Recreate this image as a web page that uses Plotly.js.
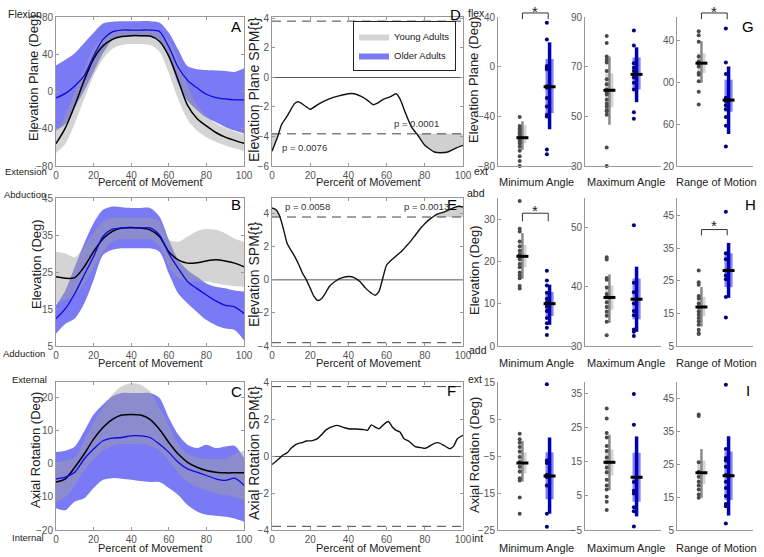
<!DOCTYPE html>
<html>
<head>
<meta charset="utf-8">
<script src="https://cdn.plot.ly/plotly-3.0.1.min.js"></script>
<style>html,body{margin:0;padding:0;background:#fff;} #chart{width:764px;height:557px;}</style>
</head>
<body>
<div id="chart"></div>
<script>
// ---- curve panels (A, B, C): mean +- band, young vs older ----
const pct = [0, 5, 10, 15, 20, 25, 30, 35, 40, 45, 50, 55, 60, 65, 70, 75, 80, 85, 90, 95, 100];

const planeYoungMean = [-56, -39, -15, 12, 35, 49, 56, 59, 60, 60, 59.5, 54, 38, 12, -15, -29, -37, -44, -49, -52.5, -55.7];
const planeYoungUp = [-42, -25, 0, 25, 46, 58, 64, 67, 68, 68, 67.5, 64, 55, 33, 6, -14, -26, -34, -39, -43, -46];
const planeYoungLo = [-66, -56, -34, -8, 17, 35, 46, 50, 51, 51, 50, 43, 20, -8, -30, -42, -49, -54, -58, -61, -64];
const planeOlderMean = [-7, -2, 6, 17, 38, 56, 64, 66, 66, 66, 66, 64.5, 48, 26, 12, 4, -3, -6.5, -8, -9, -9];
const planeOlderUp = [28, 34, 41, 52, 63, 73, 75, 75.5, 75.5, 75.5, 75.5, 74, 63, 45, 27, 24, 23, 22.5, 22, 21, 25];
const planeOlderLo = [-42, -35, -17, 1, 21, 41, 55, 59, 59, 59, 59, 55, 37, 8, -10, -20, -28, -33, -38, -42, -45];

const elevYoungMean = [23.7, 23.3, 23.5, 26.4, 30.5, 34, 36, 36.9, 37, 36.9, 36.4, 34.6, 30.5, 28.3, 27.4, 27.5, 28, 28.3, 28, 27.4, 26.4];
const elevYoungUp = [30.5, 30, 29, 31.9, 35.5, 38.7, 39.6, 39.6, 39.6, 39.6, 39.6, 38.7, 33.7, 33.2, 34.6, 36, 36.6, 36.4, 35.5, 34, 33.2];
const elevYoungLo = [16.5, 17.4, 18.8, 21.9, 26, 30.5, 33.2, 33.9, 33.9, 33.9, 33.9, 31.9, 26.4, 23.3, 22.4, 22.4, 22.4, 21.9, 21.5, 21.2, 21];
const elevOlderMean = [12.4, 15.1, 19.2, 24.2, 29.2, 34.6, 36.6, 36.9, 36.9, 36.9, 36.9, 35, 30, 26, 22.4, 20.5, 18.8, 17.2, 16, 15.6, 13.8];
const elevOlderUp = [16, 20, 26.4, 32.8, 38.2, 41.8, 42.7, 42.5, 42.3, 42.3, 42.3, 40, 33.7, 28.3, 25.5, 23.7, 21.9, 21, 20.6, 20, 19.7];
const elevOlderLo = [8.3, 11, 12.4, 16.5, 22.8, 29.6, 31, 31.4, 31.4, 31.4, 31.4, 30.5, 24.6, 19.2, 16.5, 14.2, 12, 10.6, 9.7, 9.3, 6.5];

const axialYoungMean = [-5.5, -4.5, -1, 3, 7.5, 11, 13.5, 14.8, 15, 14.8, 13.5, 10.5, 6.5, 3, 0.5, -1, -2, -2.5, -2.7, -2.7, -2.7];
const axialYoungUp = [0.5, 1, 2, 7, 12.5, 17, 21, 23.5, 24.5, 24, 22, 17, 11.5, 6, 3, 2, 1.5, 1.5, 1.5, 3, 4];
const axialYoungLo = [-11.5, -10, -6.5, -2, 1.5, 4, 5.5, 6, 6, 6, 5.5, 4, 1, -2.5, -5.5, -7, -8, -9, -9.5, -10, -11];
const axialOlderMean = [-4.5, -4, -2.5, 1.5, 4.5, 7, 7.8, 8, 8.5, 8.5, 8, 6, 3.5, 0.5, -1.5, -2.5, -3.5, -4.5, -5, -4.3, -6.5];
const axialOlderUp = [3.6, 4, 5.3, 9.9, 15, 18, 20.5, 21.5, 21.5, 21.5, 21.5, 20, 14, 8.9, 5.8, 4.8, 5.8, 4.8, 5.3, 5.5, 1.8];
const axialOlderLo = [-13.4, -14, -11.4, -10.4, -7.3, -4.8, -4.3, -4.5, -4.8, -5.2, -5.5, -5.5, -7.3, -9.4, -12.4, -14.4, -15.4, -15.7, -16, -16.5, -17.5];

// ---- SPM{t} panels (D, E, F) ----
const spmPlaneX = [0, 3, 5, 8, 12, 14, 17, 20, 25, 30, 35, 40, 43, 47, 50, 53, 55, 58, 62, 65, 67, 70, 73, 76, 80, 85, 88, 92, 96, 100];
const spmPlaneT = [-5, -4, -3.2, -2.6, -1.75, -1.65, -1.9, -2.15, -1.75, -1.45, -1.25, -1.1, -1.1, -1.3, -1.55, -1.85, -1.75, -1.5, -1.3, -1.1, -1.45, -2.45, -3.35, -3.85, -4.6, -5.05, -5.1, -5.05, -4.8, -4.6];
const spmElevX = [0, 2, 4, 6, 8, 10, 12, 14, 16, 18, 20, 22, 24, 26, 28, 30, 33, 36, 40, 43, 46, 49, 52, 54, 56, 58, 60, 62, 65, 68, 70, 72, 75, 78, 80, 83, 86, 90, 93, 96, 98, 100];
const spmElevT = [4.35, 4.25, 3.86, 3.07, 2.18, 1.78, 1.39, 0.93, 0.4, 0, -0.5, -1.0, -1.25, -1.13, -0.8, -0.4, -0.1, 0.1, 0.2, 0.14, -0.1, -0.5, -0.8, -0.93, -0.7, 0.1, 0.9, 1.15, 1.45, 1.75, 2.0, 2.25, 2.7, 3.15, 3.4, 3.7, 3.95, 4.1, 4.25, 4.4, 4.45, 4.4];
const spmAxialX = [0, 2, 4, 6, 8, 10, 12, 14, 16, 18, 20, 22, 24, 26, 28, 30, 32, 34, 36, 38, 40, 44, 48, 50, 52, 54, 56, 58, 60, 61, 63, 65, 67, 69, 72, 75, 78, 80, 82, 85, 87, 90, 93, 95, 97, 100];
const spmAxialT = [-0.44, -0.27, -0.09, 0.09, 0.21, 0.44, 0.62, 0.71, 0.76, 0.84, 0.85, 0.89, 0.98, 1.19, 1.42, 1.56, 1.64, 1.69, 1.64, 1.56, 1.51, 1.49, 1.46, 1.42, 1.72, 1.6, 1.51, 1.69, 1.87, 1.9, 1.6, 1.42, 1.33, 0.98, 0.8, 0.53, 0.48, 0.44, 0.53, 0.71, 0.75, 0.6, 0.42, 0.55, 0.95, 1.15];
const spmThresh = [3.82, 3.8, 3.8];
const spmPvals = [['p = 0.0076', 'p = 0.0001'], ['p = 0.0058', 'p = 0.0013'], []];

// ---- individual angles (G, H, I): dots + [whiskerLo, q1, median, q3, whiskerHi] ----
const groups = ['Young', 'Older'];
const planeMinYoung = [-40.6, -47.7, -49.6, -51, -52.3, -53.7, -55, -56.4, -57.7, -59.1, -60.5, -61.8, -64.5, -67.8, -72.1, -75.9, -80];
const planeMinOlder = [35.4, 21.8, 0.6, -0.7, -2.1, -15.7, -17, -25.2, -32, -38.7, -40.1, -66.7, -70.5];
const planeMaxYoung = [82.3, 79.5, 74.1, 72.8, 71.7, 68.3, 64.9, 62.9, 60.8, 59.7, 58.8, 56.7, 55.1, 54, 52.6, 52, 50.6, 37.5, 30];
const planeMaxOlder = [84.6, 78.5, 71.4, 69.6, 68.3, 65.6, 63.5, 60.8, 51.6, 49];
const planeRomYoung = [148.5, 144.7, 138.4, 124.3, 119.6, 118, 114.9, 108.6, 107, 100.7, 90.7, 78.7];
const planeRomOlder = [151, 118.6, 107.6, 85, 81.9, 78, 74, 66.8, 58.3, 38.5];
const planeMinStats = [[-67, -61.8, -57.2, -47, -44], [-50.4, -37.4, -16.2, 6.1, 19.6]];
const planeMaxStats = [[46.6, 53.6, 60.5, 67.3, 74.1], [55.7, 60.8, 66.9, 73.7, 77.8]];
const planeRomStats = [[99.2, 108.6, 118, 127.4, 139], [50.5, 71.8, 82.8, 102.3, 114.9]];

const elevMinYoung = [34.3, 27.7, 27.1, 24.7, 23.6, 22.5, 21.7, 20.5, 19.4, 18.6, 17.4, 16.7, 16, 14.2, 13.6];
const elevMinOlder = [17.8, 15.5, 14.3, 12.6, 11.2, 10.3, 9.3, 8.3, 6.6, 5.4, 4.3, 2.6];
const elevMaxYoung = [45, 44.6, 41.5, 41.2, 39.9, 38.8, 38.3, 37.4, 36.6, 35.8, 35.1, 34.1, 31.8];
const elevMaxOlder = [50.4, 40.7, 39.1, 37.2, 35.9, 35.2, 32.8, 32.4, 31.7];
const elevRomYoung = [28.2, 24.6, 23.8, 20.4, 19.6, 18.1, 16.8, 15.6, 14.6, 13.6, 12.6, 11.5, 10, 9, 8.7];
const elevRomOlder = [46.3, 33.5, 31.7, 28.2, 26.7, 25.5, 20.1, 13.8];
const elevMinStats = [[15.9, 18.6, 21.2, 23.9, 26.7], [5, 7.1, 10, 12.8, 14.5]];
const elevMaxStats = [[33.9, 36.1, 38.2, 40.2, 42.1], [32.4, 34.5, 37.9, 41.4, 43.4]];
const elevRomStats = [[11, 14.1, 17, 20.1, 23.1], [19.8, 23.1, 28.2, 33.5, 36.7]];

const axialMinYoung = [1, -0.5, -1.4, -2.6, -3.8, -5.3, -6.6, -7.9, -9.2, -11, -11.6, -16.2, -20.6];
const axialMinOlder = [14.4, -6.2, -6.9, -10.1, -10.7, -13, -20.6, -24.1];
const axialMaxYoung = [30.7, 27.8, 23.5, 22.2, 19.7, 18.2, 16.3, 14.9, 13.4, 12, 9.8, 8.1, 6.9, 4.8, 3.3, 0.9];
const axialMaxOlder = [35, 25.9, 9.1, 6.5, 5.7, 1.7, 0.5, -4];
const axialRomYoung = [40.1, 39.7, 25.6, 22.7, 21.2, 19.7, 18.5, 17.3, 15.8, 14.8];
const axialRomOlder = [49.2, 29.6, 26.9, 26.1, 24.2, 21.7, 19.7, 17.8, 15.3, 12.9, 12.2, 7];
const axialMinStats = [[-11.9, -9.7, -6.9, -4, -0.9], [-20.6, -16.7, -10.4, -4, 0]];
const axialMaxStats = [[6.7, 11, 14.9, 18.7, 23], [-1, 3.3, 10.5, 17.7, 22.5]];
const axialRomStats = [[14.8, 19, 22.4, 26.1, 29.6], [9.4, 14.1, 21.5, 28.9, 33.5]];

// ---- text ----
const angleTitles = ['Minimum Angle', 'Maximum Angle', 'Range of Motion'];
const rowDegTitles = ['Elevation Plane (Deg)', 'Elevation (Deg)', 'Axial Rotation (Deg)'];
const rowSpmTitles = ['Elevation Plane SPM{t}', 'Elevation SPM{t}', 'Axial Rotation SPM{t}'];
const sideLabels = [['Flexion', 'Extension'], ['Abduction', 'Adduction'], ['External', 'Internal']];
const shortLabels = [['flex', 'ext'], ['abd', 'add'], ['ext', 'int']];
const letters = [['A', 'D', 'G'], ['B', 'E', 'H'], ['C', 'F', 'I']];

const W = 764, H = 557;
const SANS = 'Liberation Sans, Arial, sans-serif';
const BLUE_BAND = 'rgb(122,122,245)';
const GRAY_BAND = 'rgba(160,160,160,0.45)';

const colsPx = [[56, 244], [272, 463], [498, 574], [585, 661], [677, 753]];
const rowsPx = [[17, 166], [198, 346], [382, 530]];

const curveRanges = [[-80, 80], [5, 45], [-20, 24.8]];
const curveTicks = [[-80, -40, 0, 40, 80], [5, 15, 25, 35, 45], [-20, -10, 0, 10, 20]];
const spmRanges = [[-6, 4.1], [-4, 4.95], [-4, 4.05]];
const spmTicks = [[-6, -4, -2, 0, 2, 4], [-4, -2, 0, 2, 4], [-4, -2, 0, 2, 4]];
const angleRanges = [[[-80, 40], [30, 90], [20, 162]], [[0, 35], [30, 55], [5, 50.5]], [[-25, 15], [-5, 38.5], [5, 50]]];
const angleTicks = [[[-80, -40, 0, 40], [30, 50, 70, 90], [20, 60, 100, 140]],
                    [[0, 10, 20, 30], [30, 40, 50], [5, 15, 25, 35, 45]],
                    [[-25, -15, -5, 5, 15], [-5, 5, 15, 25, 35], [5, 15, 25, 35, 45]]];
const angleTickText = [[null, null, ['20', '60', '00', '40']], [null, null, null], [null, null, null]];

const curveData = [
  [planeYoungMean, planeYoungUp, planeYoungLo, planeOlderMean, planeOlderUp, planeOlderLo],
  [elevYoungMean, elevYoungUp, elevYoungLo, elevOlderMean, elevOlderUp, elevOlderLo],
  [axialYoungMean, axialYoungUp, axialYoungLo, axialOlderMean, axialOlderUp, axialOlderLo]];
const spmData = [[spmPlaneX, spmPlaneT], [spmElevX, spmElevT], [spmAxialX, spmAxialT]];
const angleData = [
  [[planeMinYoung, planeMinOlder, planeMinStats], [planeMaxYoung, planeMaxOlder, planeMaxStats], [planeRomYoung, planeRomOlder, planeRomStats]],
  [[elevMinYoung, elevMinOlder, elevMinStats], [elevMaxYoung, elevMaxOlder, elevMaxStats], [elevRomYoung, elevRomOlder, elevRomStats]],
  [[axialMinYoung, axialMinOlder, axialMinStats], [axialMaxYoung, axialMaxOlder, axialMaxStats], [axialRomYoung, axialRomOlder, axialRomStats]]];
// significant differences: [row, angle column]
const sigPairs = [[0, 0], [0, 2], [1, 0], [1, 2]];

const traces = [];
const annotations = [];
const shapes = [];
const layout = {
  width: W, height: H,
  margin: {l: 0, r: 0, t: 0, b: 0},
  paper_bgcolor: '#fff', plot_bgcolor: 'rgba(0,0,0,0)',
  barmode: 'overlay',
  showlegend: true,
  font: {family: SANS, size: 10, color: '#555'},
  legend: {
    x: 353 / W, y: 1 - 21 / H, xanchor: 'left', yanchor: 'top',
    traceorder: 'normal',
    bgcolor: '#fff', bordercolor: '#222', borderwidth: 1,
    font: {family: SANS, size: 9.5, color: '#222'},
    itemwidth: 30, tracegroupgap: 0
  },
  annotations: annotations,
  shapes: shapes
};

const sfx = k => (k === 1 ? '' : String(k));
const px = v => v / W;
const py = v => 1 - v / H;

function addAxes(k, r, c, xopt, yopt) {
  const base = {
    showgrid: false, zeroline: false, showline: true, linecolor: '#999', linewidth: 1,
    ticks: 'inside', ticklen: 3, tickcolor: '#999',
    tickfont: {family: SANS, size: 10, color: '#555'}, fixedrange: true
  };
  layout['xaxis' + sfx(k)] = Object.assign({}, base,
    {domain: [px(colsPx[c][0]), px(colsPx[c][1])], anchor: 'y' + sfx(k)}, xopt);
  layout['yaxis' + sfx(k)] = Object.assign({}, base,
    {domain: [py(rowsPx[r][1]), py(rowsPx[r][0])], anchor: 'x' + sfx(k)}, yopt);
}

function note(text, x, y, opt) {
  annotations.push(Object.assign({
    text: text, x: px(x), y: py(y), xref: 'paper', yref: 'paper',
    showarrow: false, xanchor: 'center', yanchor: 'middle',
    font: {family: SANS, size: 11, color: '#222'}
  }, opt || {}));
}

function exceed(xs, ys, thr, sign) {
  // regions where sign*t > thr, closed back along the threshold
  const out = [];
  let cur = null;
  for (let i = 0; i < xs.length; i++) {
    const v = ys[i] * sign;
    if (v >= thr) {
      if (!cur) {
        cur = {x: [], y: []};
        if (i > 0) {
          const v0 = ys[i - 1] * sign, f = (thr - v0) / (v - v0);
          cur.x.push(xs[i - 1] + f * (xs[i] - xs[i - 1])); cur.y.push(sign * thr);
        }
      }
      cur.x.push(xs[i]); cur.y.push(ys[i]);
    } else if (cur) {
      const v0 = ys[i - 1] * sign, f = (thr - v0) / (v - v0);
      cur.x.push(xs[i - 1] + f * (xs[i] - xs[i - 1])); cur.y.push(sign * thr);
      out.push(cur); cur = null;
    }
  }
  if (cur) out.push(cur);
  return out.map(c => ({
    x: c.x.concat(c.x.slice().reverse()),
    y: c.y.concat(c.x.map(() => sign * thr))
  }));
}

for (let r = 0; r < 3; r++) {
  // ---------- curve panel ----------
  let k = r * 5 + 1;
  addAxes(k, r, 0,
    {range: [0, 100], tickvals: [0, 20, 40, 60, 80, 100], mirror: 'ticks'},
    {range: curveRanges[r], tickvals: curveTicks[r], mirror: 'ticks'});
  const [ym, yu, yl, om, ou, ol] = curveData[r];
  const ax = {xaxis: 'x' + sfx(k), yaxis: 'y' + sfx(k), hoverinfo: 'skip', type: 'scatter', mode: 'lines'};
  const spl = {shape: 'spline', smoothing: 0.8, width: 0};
  traces.push(Object.assign({}, ax, {x: pct, y: ol, line: spl, showlegend: false}));
  traces.push(Object.assign({}, ax, {x: pct, y: ou, line: spl, fill: 'tonexty', fillcolor: BLUE_BAND,
    name: 'Older Adults', showlegend: r === 0, legendrank: 2}));
  traces.push(Object.assign({}, ax, {x: pct, y: yl, line: spl, showlegend: false}));
  traces.push(Object.assign({}, ax, {x: pct, y: yu, line: spl, fill: 'tonexty', fillcolor: GRAY_BAND,
    name: 'Young Adults', showlegend: r === 0, legendrank: 1}));
  traces.push(Object.assign({}, ax, {x: pct, y: ym, showlegend: false,
    line: {shape: 'spline', smoothing: 0.8, width: 1.5, color: '#000'}}));
  traces.push(Object.assign({}, ax, {x: pct, y: om, showlegend: false,
    line: {shape: 'spline', smoothing: 0.8, width: 1.3, color: 'rgb(10,10,225)'}}));

  note(rowDegTitles[r], [33, 36, 35][r], [78, 264, 450][r], {textangle: -90, font: {family: SANS, size: 13, color: '#222'}});
  note('Percent of Movement', 150, [182, 363, 548][r]);
  note(sideLabels[r][0], [25, 25, 29][r], [14, 194, 379][r], {font: {family: SANS, size: [10.5, 9.5, 9.5][r], color: '#222'}});
  note(sideLabels[r][1], [26, 24, 28][r], [171, 353, 537][r], {font: {family: SANS, size: 9.5, color: '#222'}});
  note(letters[r][0], 236, [26, 205, 391][r], {font: {family: SANS, size: 15, color: '#000'}});

  // ---------- SPM panel ----------
  k = r * 5 + 2;
  addAxes(k, r, 1,
    {range: [0, 100], tickvals: [0, 20, 40, 60, 80, 100], mirror: 'ticks'},
    {range: spmRanges[r], tickvals: spmTicks[r], mirror: 'ticks'});
  const [sx, st] = spmData[r];
  const thr = spmThresh[r];
  const sax = {xaxis: 'x' + sfx(k), yaxis: 'y' + sfx(k), hoverinfo: 'skip', type: 'scatter', showlegend: false};
  [1, -1].forEach(sign => {
    exceed(sx, st, thr, sign).forEach(p => {
      traces.push(Object.assign({}, sax, {x: p.x, y: p.y, mode: 'lines', fill: 'toself',
        fillcolor: 'rgb(208,208,208)', line: {width: 0}}));
    });
    traces.push(Object.assign({}, sax, {x: [sx[0], sx[sx.length - 1]], y: [sign * thr, sign * thr], mode: 'lines',
      line: {color: '#444', width: 1, dash: '9px,6px'}}));
  });
  traces.push(Object.assign({}, sax, {x: [sx[0], sx[sx.length - 1]], y: [0, 0], mode: 'lines',
    line: {color: '#555', width: 1}}));
  traces.push(Object.assign({}, sax, {x: sx, y: st, mode: 'lines',
    line: {color: '#111', width: 1.4, shape: 'spline', smoothing: 0.6}}));

  note(rowSpmTitles[r], 254, [90, 275, 453][r], {textangle: -90, font: {family: SANS, size: 14, color: '#222'}});
  note('Percent of Movement', 368, [182, 363, 548][r]);
  note(letters[r][1], [455, 452, 451][r], [15, 205, 390][r], {font: {family: SANS, size: 15, color: '#000'}});
  const pv = spmPvals[r];
  if (pv.length) {
    const pxs = [[4, 63], [6, 68]][r];
    const pys = [[-4.75, -3.15], [4.45, 4.45]][r];
    pv.forEach((t, i) => annotations.push({
      text: t, x: pxs[i], y: pys[i], xref: 'x' + sfx(k), yref: 'y' + sfx(k),
      xanchor: 'left', yanchor: 'middle', showarrow: false,
      font: {family: SANS, size: 9.5, color: '#333'}
    }));
  }

  // ---------- angle panels ----------
  for (let c = 0; c < 3; c++) {
    k = r * 5 + 3 + c;
    const yopt = {range: angleRanges[r][c], tickvals: angleTicks[r][c]};
    if (angleTickText[r][c]) yopt.ticktext = angleTickText[r][c];
    addAxes(k, r, c + 2, {range: [0.2, 3.0], showticklabels: false, ticks: ''}, yopt);
    const aax = {xaxis: 'x' + sfx(k), yaxis: 'y' + sfx(k), hoverinfo: 'skip', showlegend: false};
    const [dy, dold, stats] = angleData[r][c];
    const dots = [dy, dold];
    groups.forEach((g, gi) => {
      const pos = gi + 1;
      const s = stats[gi];
      const young = gi === 0;
      traces.push(Object.assign({}, aax, {type: 'bar', x: [pos + 0.1], base: [s[1]], y: [s[3] - s[1]],
        width: [0.3], marker: {color: young ? 'rgb(212,212,212)' : 'rgb(134,134,243)', line: {width: 0}}}));
      traces.push(Object.assign({}, aax, {type: 'scatter', mode: 'lines', x: [pos + 0.1, pos + 0.1], y: [s[0], s[4]],
        line: {color: young ? '#8a8a8a' : 'rgb(0,0,180)', width: young ? 2.5 : 3.5}}));
      traces.push(Object.assign({}, aax, {type: 'scatter', mode: 'markers', x: dots[gi].map(() => pos), y: dots[gi],
        cliponaxis: false, marker: {size: 4, color: young ? '#4a4a4a' : 'rgb(0,0,128)'}}));
      traces.push(Object.assign({}, aax, {type: 'scatter', mode: 'lines', x: [pos - 0.12, pos + 0.32], y: [s[2], s[2]],
        line: {color: '#000', width: 3}}));
    });
    note(angleTitles[c], [536, 626, 716][c], [182, 363, 548][r]);
    if (c === 0) {
      note(rowDegTitles[r], 474, [80, 270, 455][r], {textangle: -90, font: {family: SANS, size: 13, color: '#222'}});
    }
    if (c === 2) {
      note(letters[r][2], [748, 750, 748][r], [26, 205, 390][r], {font: {family: SANS, size: 15, color: '#000'}});
    }
  }
  note(shortLabels[r][0], [476, 476, 475][r], [13, 193, 379][r], {font: {family: SANS, size: 10.5, color: '#222'}});
  note(shortLabels[r][1], [481, 478, 477][r], [171, 350, 538][r], {font: {family: SANS, size: 10.5, color: '#222'}});
}

// significance brackets
sigPairs.forEach(([r, c]) => {
  const k = r * 5 + 3 + c;
  const xr = 'x' + sfx(k);
  if (r === 0) {
    const yr = 'y' + sfx(k) + ' domain';
    shapes.push({type: 'path', xref: xr, yref: yr, path: 'M1.1,0.985 L1.1,1.027 L2.05,1.027 L2.05,0.985',
      line: {color: '#333', width: 1}});
    annotations.push({text: '*', x: 1.58, y: 1.11, xref: xr, yref: yr, showarrow: false,
      yshift: 0, font: {family: SANS, size: 15, color: '#222'}});
  } else {
    const yr = 'y' + sfx(k);
    const lev = c === 0 ? [29.5, 31.4, 32.6] : [39, 40.8, 42.6];
    shapes.push({type: 'path', xref: xr, yref: yr,
      path: `M1.1,${lev[0]} L1.1,${lev[1]} L2.05,${lev[1]} L2.05,${lev[0]}`,
      line: {color: '#333', width: 1}});
    annotations.push({text: '*', x: 1.58, y: lev[2], xref: xr, yref: yr, showarrow: false,
      yshift: -2, font: {family: SANS, size: 15, color: '#222'}});
  }
});

Plotly.newPlot('chart', traces, layout, {staticPlot: true, displayModeBar: false});
</script>
</body>
</html>
